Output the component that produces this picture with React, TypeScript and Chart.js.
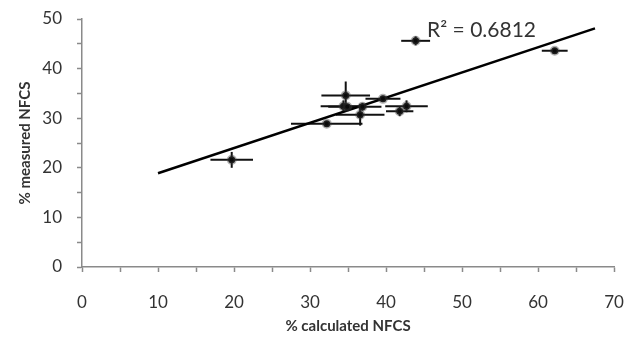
import React, { useEffect, useRef } from 'react';
import { Chart, registerables } from 'chart.js';

Chart.register(...registerables);

// Data
const calcX = [19.7, 32.2, 34.7, 34.4, 34.9, 36.9, 39.6, 42.7, 41.8, 36.6, 43.9, 62.2];
const measY = [21.6, 28.9, 34.6, 32.4, 32.3, 32.3, 33.9, 32.4, 31.4, 30.7, 45.6, 43.6];
const calcErr = [2.8, 4.7, 3.2, 3.0, 2.5, 2.5, 2.3, 2.8, 1.8, 3.2, 1.9, 1.7];
const measErr = [1.6, 0.5, 2.8, 1.2, 0.5, 0.8, 0.6, 1.2, 1.0, 2.2, 0.9, 0.5];
const trendX = [10, 67.5];
const trendY = [18.9, 48.1];
const r2Text = 'R\u00B2 = 0.6812';
const r2Pos = [45.4, 46.4];
const xTitle = '% calculated NFCS';
const yTitle = '% measured NFCS';

const AXIS = '#8a8a8a';
const TXT = '#333333';

export default function App() {
  const ref = useRef<HTMLCanvasElement | null>(null);

  useEffect(() => {
    if (!ref.current) return;
    const errSets: any[] = [];
    calcX.forEach((x, i) => {
      const y = measY[i];
      errSets.push({
        type: 'line',
        data: [{ x: x - calcErr[i], y }, { x: x + calcErr[i], y }],
        borderColor: '#111',
        borderWidth: 2,
        pointRadius: 0,
        showLine: true,
      });
      errSets.push({
        type: 'line',
        data: [{ x, y: y - measErr[i] }, { x, y: y + measErr[i] }],
        borderColor: '#111',
        borderWidth: 2,
        pointRadius: 0,
        showLine: true,
      });
    });

    const r2Plugin = {
      id: 'r2label',
      afterDatasetsDraw(chart: any) {
        const { ctx, scales } = chart;
        const px = scales.x.getPixelForValue(r2Pos[0]);
        const py = scales.y.getPixelForValue(r2Pos[1]);
        ctx.save();
        ctx.font = '21px Lato';
        ctx.fillStyle = TXT;
        ctx.textAlign = 'left';
        ctx.textBaseline = 'alphabetic';
        ctx.fillText(r2Text, px, py);
        ctx.restore();
      },
    };

    const chart = new Chart(ref.current, {
      type: 'scatter',
      data: {
        datasets: [
          {
            data: calcX.map((x, i) => ({ x, y: measY[i] })),
            backgroundColor: '#0a0a0a',
            borderColor: 'rgba(60,60,60,0.4)',
            borderWidth: 3,
            pointRadius: 3.5,
          },
          {
            type: 'line',
            data: trendX.map((x, i) => ({ x, y: trendY[i] })),
            borderColor: '#000',
            borderWidth: 2.5,
            pointRadius: 0,
            showLine: true,
          },
          ...errSets,
        ],
      },
      options: {
        responsive: false,
        animation: false,
        devicePixelRatio: 1,
        layout: { padding: { left: 0, right: 12, top: 19, bottom: 0 } },
        plugins: { legend: { display: false }, tooltip: { enabled: false } },
        scales: {
          x: {
            type: 'linear',
            min: 0,
            max: 70,
            ticks: {
              stepSize: 5,
              autoSkip: false,
              maxRotation: 0,
              padding: 20,
              color: TXT,
              font: { family: 'Lato', size: 17 },
              callback: (v: any) => (Number(v) % 10 === 0 ? String(v) : ''),
            },
            grid: {
              drawOnChartArea: false,
              drawTicks: true,
              tickLength: 5,
              tickColor: AXIS,
              tickWidth: 1.5,
            },
            border: { display: true, color: AXIS, width: 1.5 },
            title: {
              display: true,
              text: xTitle,
              color: TXT,
              font: { family: 'Lato', size: 15, weight: 'bold' },
              padding: { top: 0, bottom: 5 },
            },
            afterFit: (s: any) => {
              s.height = 73;
              s.paddingLeft = 0;
              s.paddingRight = 0;
            },
          },
          y: {
            type: 'linear',
            min: 0,
            max: 50,
            ticks: {
              stepSize: 5,
              padding: 15,
              color: TXT,
              font: { family: 'Lato', size: 17 },
              callback: (v: any) => (Number(v) % 10 === 0 ? String(v) : ''),
            },
            grid: {
              drawOnChartArea: false,
              drawTicks: true,
              tickLength: 5,
              tickColor: AXIS,
              tickWidth: 1.5,
            },
            border: { display: true, color: AXIS, width: 1.5 },
            title: {
              display: true,
              text: yTitle,
              color: TXT,
              font: { family: 'Lato', size: 15, weight: 'bold' },
              padding: { top: 16, bottom: 0 },
            },
            afterFit: (s: any) => {
              s.width = 82;
              s.paddingTop = 0;
              s.paddingBottom = 0;
            },
          },
        },
      },
      plugins: [r2Plugin],
    } as any);
    return () => chart.destroy();
  }, []);

  return (
    <div style={{ position: 'absolute', left: 0, top: 0, width: 626, height: 340, background: '#fff' }}>
      <canvas ref={ref} width={626} height={340} style={{ width: 626, height: 340 }} />
    </div>
  );
}
